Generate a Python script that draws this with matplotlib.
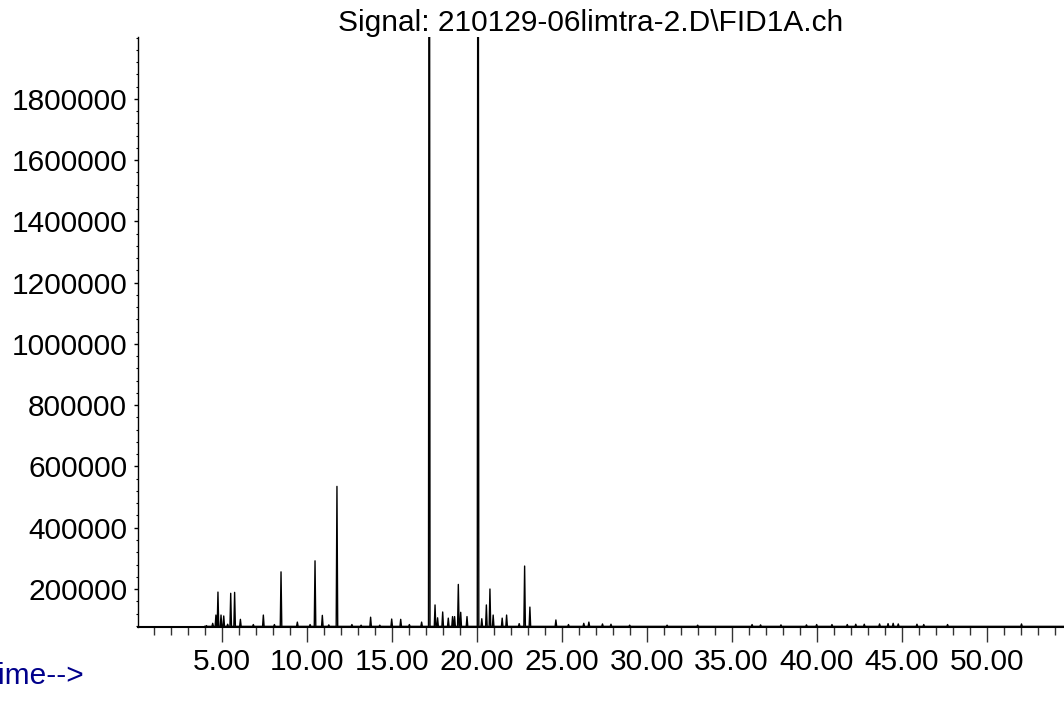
import numpy as np
import matplotlib
matplotlib.use("Agg")
import matplotlib.pyplot as plt
from matplotlib.ticker import MultipleLocator, FixedLocator

plt.rcParams['font.family'] = ['Liberation Sans', 'DejaVu Sans']

TITLE = "Signal: 210129-06limtra-2.D\\FID1A.ch"
X_LABEL = "Time-->"

# retention times (min) and peak heights (counts)
peak_times = [4.10, 4.47, 4.66, 4.78, 4.96, 5.12, 5.35, 5.53, 5.76, 6.10,
              6.86, 7.45, 8.10, 8.49, 9.45, 10.20, 10.49, 10.92, 11.30, 11.78,
              12.66, 13.20, 13.76, 14.30, 15.00, 15.53, 16.04, 16.76, 17.21, 17.55,
              17.70, 18.00, 18.33, 18.58, 18.70, 18.92, 19.06, 19.43, 20.08, 20.30,
              20.57, 20.78, 20.97, 21.50, 21.76, 22.50, 22.82, 23.13, 24.66, 25.40,
              26.30, 26.60, 27.40, 27.90, 29.00, 31.20, 33.00, 36.20, 36.70, 37.90,
              39.40, 40.00, 40.90, 41.80, 42.30, 42.80, 43.70, 44.20, 44.50, 44.80,
              45.90, 46.30, 47.70, 52.05]
peak_heights = [80500, 88000, 115000, 190000, 115000, 112000, 85000, 186000, 189000, 101000,
                84000, 115000, 84000, 256000, 92000, 84000, 292000, 114000, 83000, 535000,
                84000, 82000, 108000, 82000, 102000, 101000, 84000, 92000, 4000000, 148000,
                106000, 125000, 105000, 110000, 110000, 215000, 124000, 110000, 4000000, 103000,
                148000, 200000, 115000, 105000, 115000, 87000, 275000, 141000, 99000, 84000,
                88000, 92000, 86000, 85000, 82000, 82000, 82000, 84000, 83000, 83000,
                83000, 84000, 84000, 84000, 85000, 85000, 86000, 87000, 88000, 86000,
                85000, 84000, 84000, 86000]
baseline = 78000
run_start, run_end = 4.0, 54.6

x_major = np.arange(5, 55, 5)
y_major = np.arange(200000, 2000000, 200000)

# build the trace as narrow peaks sitting on the baseline
half_w = 0.045
t_pts = [run_start]
v_pts = [baseline]
for t, h in zip(peak_times, peak_heights):
    t_pts += [t - half_w, t, t + half_w]
    v_pts += [baseline, h, baseline]
t_pts.append(run_end)
v_pts.append(baseline)

fig = plt.figure(figsize=(10.64, 7.16), dpi=100)
ax = fig.add_axes([138.3 / 1064, 1 - 627 / 716, (1064 - 138.3) / 1064, (627 - 37) / 716])
ax.plot(t_pts, v_pts, color='black', lw=1.0)

ax.set_xlim(0.094, 54.55)
ax.set_ylim(76000, 2002000)

ax.spines['top'].set_visible(False)
ax.spines['right'].set_visible(False)
ax.spines['left'].set_linewidth(1.0)
ax.spines['bottom'].set_linewidth(1.5)

ax.xaxis.set_major_locator(FixedLocator(x_major))
ax.xaxis.set_minor_locator(MultipleLocator(1))
ax.set_xticklabels([f"{v:.2f}" for v in x_major])
ax.yaxis.set_major_locator(FixedLocator(y_major))
ax.yaxis.set_minor_locator(MultipleLocator(40000))
ax.set_yticklabels([str(v) for v in y_major])

ax.tick_params(axis='x', which='major', length=11, width=1.0, pad=4, labelsize=21.5, color='#333333')
ax.tick_params(axis='x', which='minor', length=6, width=1.0, color='#333333')
ax.tick_params(axis='y', which='major', length=3, width=1.0, pad=5, labelsize=21.5)
ax.tick_params(axis='y', which='minor', length=1.8, width=0.8)

fig.text(590.5 / 1064, 1 - 31 / 716, TITLE, ha='center', va='baseline', fontsize=21.5)
# the axis label sits partly off the left edge, as in the original printout
fig.text(-19 / 1064, 1 - 676 / 716, X_LABEL, ha='left', va='center', fontsize=21.5, color='#00008b')

fig.savefig("out.png", dpi=100)
